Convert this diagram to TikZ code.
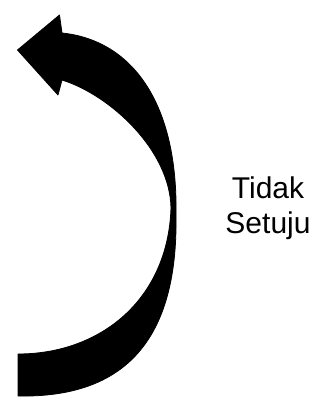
\documentclass[tikz,border=0pt]{standalone}
\usepackage{fontspec}
\setmainfont{Liberation Sans}
\usepackage{tikz}
\usetikzlibrary{positioning}

\begin{document}
\begin{tikzpicture}[x=1pt, y=-1pt]
    \useasboundingbox (0, 0) rectangle (328, 403);
    % curved arrow, drawn as one filled outline
    \fill[black, draw=black, line width=0.8pt, line join=round]
      (18, 396) -- (18, 354)
      .. controls (100, 354) and (168, 300) .. (171, 208)
      .. controls (170, 150) and (110, 95) .. (62, 80)
      -- (58, 95) -- (17.5, 50) -- (59.5, 15) -- (62, 33)
      .. controls (130, 40) and (178, 100) .. (176, 215)
      .. controls (178, 340) and (125, 398) .. cycle;
    \node[font=\fontsize{30}{34.5}\selectfont, align=center, inner sep=0pt,
          anchor=base] (label) at (268, 233) {Tidak\\Setuju};
\end{tikzpicture}
\end{document}
